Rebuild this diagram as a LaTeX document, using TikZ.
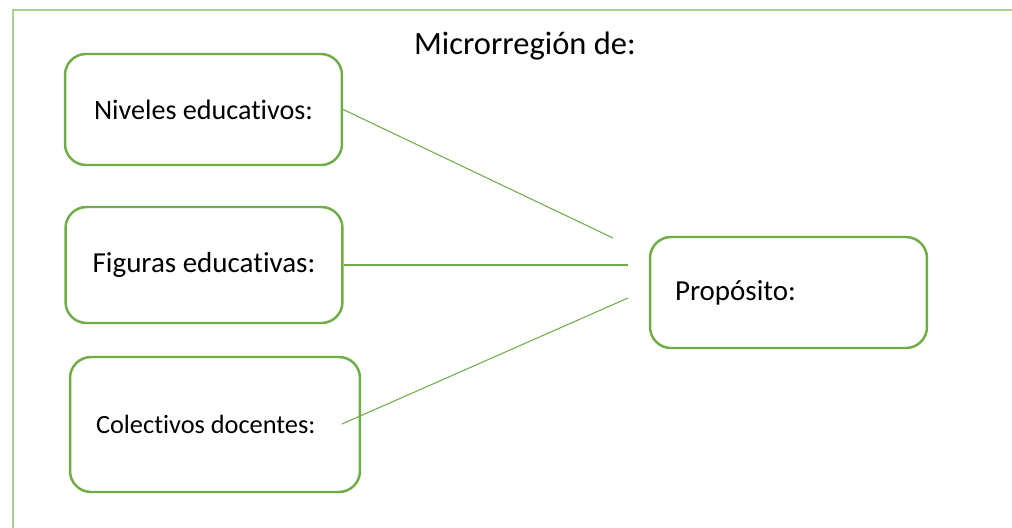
\documentclass[tikz,border=0pt]{standalone}
\usepackage{fontspec}
\setmainfont{Carlito}[Ligatures=NoCommon]
\usepackage{tikz}
\usetikzlibrary{positioning}
\definecolor{boxgreen}{HTML}{70AD47}
\definecolor{framegreen}{HTML}{A9D18E}
\begin{document}
\begin{tikzpicture}[x=0.02cm,y=-0.02cm,
   box/.style={draw=boxgreen,line width=1.4pt,rounded corners=0.42cm,minimum width=5.54cm,minimum height=2.22cm},
   link/.style={draw=boxgreen,line width=0.6pt}]
   \useasboundingbox (0,0) rectangle (1012,528);
   \draw[framegreen,line width=0.9pt] (1012,10) -- (13,10) -- (13,528);
   \node (title) at (525,46) {\fontsize{18.5}{22}\selectfont Microrregión de:};
   \node[box] (q_niv) at (203.5,109.5) {\fontsize{16}{19}\selectfont Niveles educativos:};
   \node[box,minimum height=2.32cm] (q_fig) at (204,265) {\fontsize{16.5}{19}\selectfont Figuras educativas:};
   \node[box,minimum width=5.8cm,minimum height=2.7cm,text width=4.76cm,align=left,inner xsep=0.52cm] (q_col) at (215,424.5) {\fontsize{15}{18}\selectfont Colectivos docentes:};
   \node[box,text width=4.54cm,align=left,inner xsep=0.5cm] (q_prop) at (788.5,292.5) {\fontsize{16.5}{19}\selectfont Propósito:};
   \coordinate (e_niv) at (613,238);
   \coordinate (e_fig) at (628,265);
   \coordinate (s_col) at (342,424);
   \coordinate (e_col) at (628,298);
    \path[link]
    (q_niv.east) edge (e_niv)
    (q_fig.east) edge (e_fig)
    (s_col) edge (e_col);
\end{tikzpicture}
\end{document}
